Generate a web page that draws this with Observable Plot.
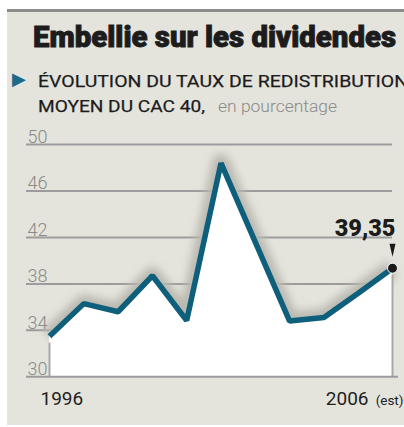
<!DOCTYPE html>
<html><head><meta charset="utf-8">
<script src="https://cdn.jsdelivr.net/npm/d3@7"></script>
<script src="https://cdn.jsdelivr.net/npm/@observablehq/plot@0.6"></script>
<style>
html,body{margin:0;padding:0;background:#fff;}
#wrap{position:relative;width:404px;height:427px;overflow:hidden;background:#fff;font-family:Roboto,sans-serif;}
#panel{position:absolute;left:7px;top:9px;width:397px;height:416px;background:#e4e4dc;border-top:3px solid #8c8c8c;box-sizing:border-box;}
#head{position:absolute;left:0;top:0;}
#chart{position:absolute;left:0;top:125px;}
</style>
</head><body>
<div id="wrap">
  <div id="panel"></div>
  <svg id="head" width="404" height="125" font-family="Roboto, sans-serif">
    <text id="title" x="33" y="46.7" font-size="29" font-weight="900" fill="#1c1c1c" stroke="#1c1c1c" stroke-width="0.9"></text>
    <text id="bullet" x="12" y="85" font-size="18" fill="#1b6a8c" font-family="DejaVu Sans">▶</text>
    <text id="sub1" x="38" y="87.3" font-size="17.3" fill="#1c1c1c" stroke="#1c1c1c" stroke-width="0.25"></text>
    <text id="sub2" x="38" y="111.7" font-size="17.3" fill="#1c1c1c" stroke="#1c1c1c" stroke-width="0.25"></text>
    <text id="unit" x="218" y="111.7" font-size="17" font-weight="300" fill="#8a8a8a"></text>
  </svg>
  <div id="chart"></div>
</div>
<script>
// ---- data ----
const titleText = "Embellie sur les dividendes";
const subtitle1 = "ÉVOLUTION DU TAUX DE REDISTRIBUTION";
const subtitle2 = "MOYEN DU CAC 40,";
const unitText = "en pourcentage";
const years  = [1996, 1997, 1998, 1999, 2000, 2001, 2002, 2003, 2004, 2005, 2006];
const values = [33.5, 36.3, 35.6, 38.7, 34.85, 48.4, 41.6, 34.8, 35.1, 37.2, 39.35];
const yTicks = [30, 34, 38, 42, 46, 50];
const firstLabel = "1996";
const lastYearLabel = "2006";
const estNote = "(est)";
const lastValueLabel = "39,35";

// ---- header text ----
function setText(id, txt, len) {
  const el = document.getElementById(id);
  el.textContent = txt;
  if (len) { el.setAttribute("textLength", len); el.setAttribute("lengthAdjust", "spacingAndGlyphs"); }
}
setText("title", titleText, 363);
setText("sub1", subtitle1, 370);
setText("sub2", subtitle2, 167);
setText("unit", unitText, 119);

// ---- chart ----
const data = years.map((year, i) => ({year, value: values[i]}));
const first = data[0];
const last = data[data.length - 1];
const lineColor = "#0e5f7b";
const gridColor = "#9c9c9c";

const notch = {draw(ctx, size) {
  const r = Math.sqrt(size / Math.PI);
  ctx.moveTo(-r * 0.6, -r * 1.3);
  ctx.lineTo(r * 0.6, -r * 1.3);
  ctx.lineTo(0, r * 1.3);
  ctx.closePath();
}};

const chart = Plot.plot({
  width: 404, height: 302,
  marginTop: 19, marginBottom: 50.7, marginLeft: 26, marginRight: 12,
  style: {background: "transparent", overflow: "visible", fontFamily: "Roboto, sans-serif"},
  x: {domain: [1996, 2006], insetLeft: 23, axis: null},
  y: {domain: [30, 50], axis: null},
  marks: [
    Plot.ruleY(yTicks.filter(t => t > 30), {y: d => d, stroke: gridColor, strokeWidth: 2}),
    // soft shadow halo along the curve
    Plot.line(data, {x: "year", y: "value", stroke: "#b9b9b1", strokeWidth: 18, strokeLinejoin: "round", strokeLinecap: "butt"}),
    Plot.areaY(data, {x: "year", y1: 30, y2: "value", fill: "white"}),
    Plot.ruleX([first, last], {x: "year", y1: 30, y2: "value", insetBottom: -7, stroke: "#a8a8a8", strokeWidth: 2}),
    Plot.ruleY([30], {y: d => d, stroke: gridColor, strokeWidth: 2, insetRight: -6}),
    Plot.text(yTicks, {y: d => d, text: d => String(d), frameAnchor: "left", textAnchor: "start", lineAnchor: "bottom",
      dx: 1, dy: -1.5, fill: "#8a8a8a", fontSize: 18, fontWeight: 300}),
    Plot.line(data, {x: "year", y: "value", stroke: lineColor, strokeWidth: 5.5, strokeLinejoin: "miter", strokeLinecap: "butt"}),
    Plot.dot([last], {x: "year", y: "value", r: 5, fill: "#1a1a1a", stroke: "white", strokeWidth: 1}),
    Plot.dot([last], {x: "year", y: "value", r: 5, symbol: notch, fill: "#1a1a1a", dy: -18}),
    Plot.text([last], {x: "year", y: "value", text: () => lastValueLabel, textAnchor: "end", lineAnchor: "bottom",
      dx: 3, dy: -32.5, fontSize: 23.5, fontWeight: 900, fill: "#1c1c1c"}),
    Plot.text([first], {x: "year", text: () => firstLabel, frameAnchor: "bottom", textAnchor: "start", lineAnchor: "bottom",
      dx: -9, dy: 28, fontSize: 19, fill: "#222"}),
    Plot.text([last], {x: "year", text: () => lastYearLabel, frameAnchor: "bottom", textAnchor: "end", lineAnchor: "bottom",
      dx: -24, dy: 28, fontSize: 19, fill: "#222"}),
    Plot.text([last], {x: "year", text: () => estNote, frameAnchor: "bottom", textAnchor: "end", lineAnchor: "bottom",
      dx: 11, dy: 28, fontSize: 13.5, fill: "#222"})
  ]
});
document.getElementById("chart").appendChild(chart);
// add an SVG blur filter for the halo
const NS = "http://www.w3.org/2000/svg";
const defs = document.createElementNS(NS, "defs");
const filt = document.createElementNS(NS, "filter");
filt.setAttribute("id", "halo-blur");
filt.setAttribute("filterUnits", "userSpaceOnUse");
filt.setAttribute("x", "-50"); filt.setAttribute("y", "-50");
filt.setAttribute("width", "520"); filt.setAttribute("height", "420");
const blur = document.createElementNS(NS, "feGaussianBlur");
blur.setAttribute("stdDeviation", "4");
filt.appendChild(blur);
defs.appendChild(filt);
chart.insertBefore(defs, chart.firstChild);
const lineGroups = chart.querySelectorAll('g[aria-label="line"]');
if (lineGroups.length > 1) lineGroups[0].setAttribute("filter", "url(#halo-blur)");
</script>
</body></html>
